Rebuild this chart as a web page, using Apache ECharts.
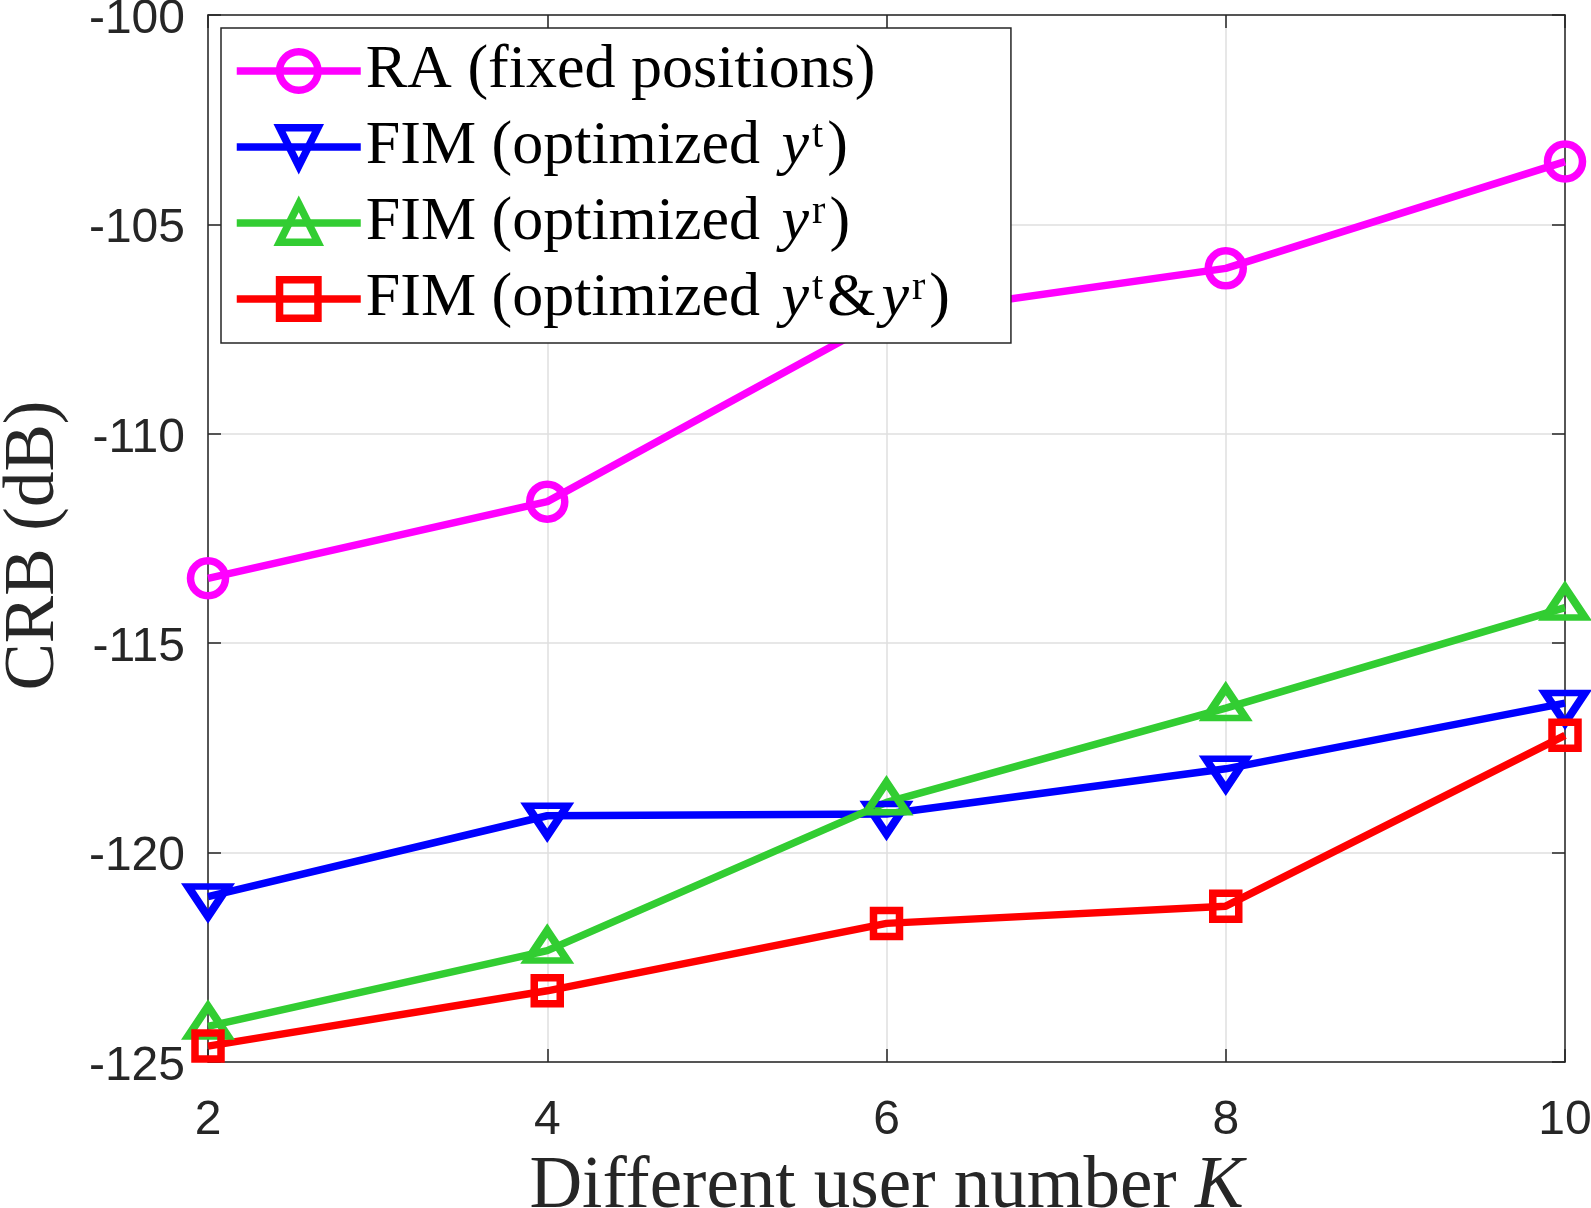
<!DOCTYPE html>
<html>
<head>
<meta charset="utf-8">
<title>CRB vs user number</title>
<script src="https://cdn.jsdelivr.net/npm/echarts@6/dist/echarts.min.js"></script>
<style>
  html, body { margin: 0; padding: 0; background: #fff; overflow: hidden; }
  #chart { width: 1591px; height: 1208px; }
</style>
</head>
<body>
<div id="chart"></div>
<script>
// data
var userNumbers = [2, 4, 6, 8, 10];
var raFixed = [-113.45, -111.62, -107.2, -106.05, -103.5];
var fimYt = [-121.05, -119.12, -119.08, -118.0, -116.43];
var fimYr = [-124.15, -122.34, -118.8, -116.55, -114.15];
var fimBoth = [-124.62, -123.3, -121.69, -121.28, -117.2];

var seriesNames = ['RA (fixed positions)', 'FIM (optimized yt)', 'FIM (optimized yr)', 'FIM (optimized yt&yr)'];
var legendRich = {
  'RA (fixed positions)': '{n|RA (fixed positions)}',
  'FIM (optimized yt)': '{n|FIM (optimized }{i|y}{s|t}{n|)}',
  'FIM (optimized yr)': '{n|FIM (optimized }{i|y}{s|r}{n|)}',
  'FIM (optimized yt&yr)': '{n|FIM (optimized }{i|y}{s|t}{n|&}{i|y}{s|r}{n|)}'
};

var axisColor = '#262626';
var gridColor = '#dfdfdf';
var serif = '"Liberation Serif", "DejaVu Serif", serif';
var sans = '"Liberation Sans", Arial, sans-serif';

var downTri = 'path://M0,0L10,0L5,8Z';
var upTri = 'path://M5,0L10,8L0,8Z';
var lw = 7.5;

function pairs (ys) {
  var out = [];
  for (var i = 0; i < userNumbers.length; i++) {
    out.push([userNumbers[i], ys[i]]);
  }
  return out;
}

function makeSeries (name, ys, color, symbol, size, offset) {
  return {
    name: name,
    type: 'line',
    data: pairs(ys),
    clip: false,
    symbol: symbol,
    symbolSize: size,
    symbolOffset: offset || [0, 0],
    showAllSymbol: true,
    animation: false,
    lineStyle: { color: color, width: lw },
    itemStyle: { color: 'rgba(255,255,255,0)', borderColor: color, borderWidth: lw },
    emphasis: { disabled: true }
  }
}

function frameAxis (extra) {
  var base = {
    type: 'value',
    axisLine: { show: true, onZero: false, lineStyle: { color: axisColor, width: 1.5 } },
    axisTick: { show: true, inside: true, length: 13, lineStyle: { color: axisColor, width: 1.5 } },
    axisLabel: { show: false },
    splitLine: { show: false }
  };
  return Object.assign(base, extra);
}

var chart = echarts.init(document.getElementById('chart'))

chart.setOption({
  backgroundColor: '#fff',
  animation: false,
  grid: { left: 208, right: 26, top: 15, bottom: 146, outerBoundsMode: 'none', containLabel: false },
  legend: {
    orient: 'vertical',
    left: 221,
    top: 28,
    itemWidth: 124,
    itemHeight: 48,
    itemGap: 14,
    itemTextGap: 10,
    padding: [12, 61, 13, 12],
    backgroundColor: '#fff',
    borderColor: axisColor,
    borderWidth: 1.5,
    lineStyle: { width: lw },
    itemStyle: { borderWidth: lw },
    data: seriesNames,
    formatter: function (name) { return legendRich[name] },
    textStyle: {
      color: '#000',
      rich: {
        n: { fontFamily: serif, fontSize: 62, lineHeight: 62, color: '#000' },
        i: { fontFamily: serif, fontSize: 62, lineHeight: 62, fontStyle: 'italic', color: '#000', padding: [0, 3, 0, 6] },
        s: { fontFamily: serif, fontSize: 40, lineHeight: 40, verticalAlign: 'top', color: '#000', padding: [0, 4, 0, 0] }
      }
    }
  },
  xAxis: [Object.assign(frameAxis({
    min: 2,
    max: 10,
    interval: 2,
    name: '{n|Different user number }{i|K}',
    nameLocation: 'middle',
    nameGap: 89,
    nameTextStyle: {
      rich: {
        n: { fontFamily: serif, fontSize: 73, color: axisColor },
        i: { fontFamily: serif, fontSize: 73, fontStyle: 'italic', color: axisColor }
      }
    }
  }), {
    axisLabel: { show: true, fontFamily: sans, fontSize: 48, color: axisColor, margin: 35 },
    splitLine: { show: true, lineStyle: { color: gridColor, width: 1.5 } }
  }), frameAxis({
    position: 'top',
    min: 2,
    max: 10,
    interval: 2
  })],
  yAxis: [Object.assign(frameAxis({
    min: -125,
    max: -100,
    interval: 5,
    name: 'CRB (dB)',
    nameLocation: 'middle',
    nameGap: 138,
    nameTextStyle: { fontFamily: serif, fontSize: 71, color: axisColor, padding: [0, 14, 0, 0] }
  }), {
    axisLabel: {
      show: true,
      margin: 23,
      formatter: '{v|{value}}',
      rich: {
        v: { fontFamily: sans, fontSize: 48, color: axisColor, padding: [9, 0, 0, 0] }
      }
    },
    splitLine: { show: true, lineStyle: { color: gridColor, width: 1.5 } }
  }), frameAxis({
    position: 'right',
    min: -125,
    max: -100,
    interval: 5
  })],
  series: [
    makeSeries(seriesNames[0], raFixed, '#ff00ff', 'circle', 35),
    makeSeries(seriesNames[1], fimYt, '#0000ff', downTri, [40, 30], [0, 5]),
    makeSeries(seriesNames[2], fimYr, '#32cd32', upTri, [40, 30], [0, -5]),
    makeSeries(seriesNames[3], fimBoth, '#ff0000', 'rect', 26)
  ]
})
</script>
</body>
</html>
